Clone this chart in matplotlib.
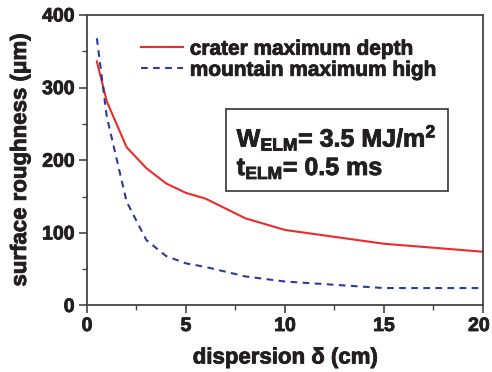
import numpy as np
import matplotlib
matplotlib.use("Agg")
import matplotlib.pyplot as plt
import matplotlib.patheffects as pe
import matplotlib.transforms as mtransforms
from matplotlib.patches import Rectangle
from matplotlib.ticker import MultipleLocator

# Data -----------------------------------------------------------------------
dispersion = [0.5, 1, 2, 3, 4, 5, 6, 8, 10, 15, 20]
crater_depth = [336, 281, 218, 189, 168, 155, 147, 120, 104, 85, 74]
mountain_high = [368, 260, 143, 90, 68, 58, 53, 40, 33, 24, 24]

x_ticks = [0, 5, 10, 15, 20]
y_ticks = [0, 100, 200, 300, 400]

INK = "#231f20"
heavy = [pe.withStroke(linewidth=0.6, foreground=INK)]
plt.rcParams["font.family"] = ["Liberation Sans", "DejaVu Sans"]
plt.rcParams["font.weight"] = "bold"
plt.rcParams["mathtext.fontset"] = "custom"
plt.rcParams["mathtext.rm"] = "Liberation Sans:bold"
plt.rcParams["mathtext.it"] = "Liberation Sans:bold"
plt.rcParams["mathtext.bf"] = "Liberation Sans:bold"

fig = plt.figure(figsize=(4.92, 3.72), dpi=100)
ax = fig.add_axes([0.1768, 0.1788, 0.8049, 0.7809])

ax.plot(dispersion, crater_depth, color="#ee2a2a", lw=1.5,
        label="crater maximum depth")
ax.plot(dispersion, mountain_high, color="#2e3a9c", lw=1.5,
        dashes=(3.2, 2.6), label="mountain maximum high")

ax.set_xlim(0, 20)
ax.set_ylim(0, 400)
ax.set_xticks(x_ticks)
ax.set_yticks(y_ticks)
ax.xaxis.set_minor_locator(MultipleLocator(2.5))
ax.yaxis.set_minor_locator(MultipleLocator(50))
ax.tick_params(which="major", direction="out", length=6, width=1.2,
               color="#444444", labelsize=14, labelcolor=INK, pad=3)
ax.tick_params(which="minor", direction="out", length=3.5, width=1.0,
               color="#444444")
for lab in ax.get_xticklabels() + ax.get_yticklabels():
    lab.set_fontweight("bold")
    lab.set_path_effects(heavy)
# keep the last x label inside the canvas
last = ax.get_xticklabels()[-1]
last.set_transform(last.get_transform() + mtransforms.ScaledTranslation(
    -3 / 72, 0, fig.dpi_scale_trans))
for s in ax.spines.values():
    s.set_color("#444444")
    s.set_linewidth(1.3)

ax.set_xlabel("dispersion δ (cm)", fontsize=16, fontweight="bold",
              color=INK, labelpad=9, path_effects=heavy)
ax.set_ylabel("surface roughness (μm)", fontsize=16, fontweight="bold",
              color=INK, labelpad=8, path_effects=heavy)

leg = ax.legend(loc="upper left", bbox_to_anchor=(0.136, 0.915),
                frameon=False, fontsize=15, handlelength=2.0,
                handletextpad=0.35, labelspacing=0.1, borderpad=0,
                borderaxespad=0)
for t in leg.get_texts():
    t.set_color(INK)
    t.set_fontweight("bold")
    t.set_path_effects(heavy)

# parameter box
ax.add_patch(Rectangle((0.351, 0.394), 0.561, 0.282, transform=ax.transAxes,
                       fill=False, ec="#333333", lw=1.2))
ax.text(0.378, 0.547, r"W$_{ELM}$= 3.5 MJ/m$^{2}$", transform=ax.transAxes,
        fontsize=18, fontweight="bold", color=INK, va="baseline",
        path_effects=heavy)
ax.text(0.378, 0.449, r"t$_{ELM}$= 0.5 ms", transform=ax.transAxes,
        fontsize=18, fontweight="bold", color=INK, va="baseline",
        path_effects=heavy)

fig.savefig("out.png", dpi=100)
